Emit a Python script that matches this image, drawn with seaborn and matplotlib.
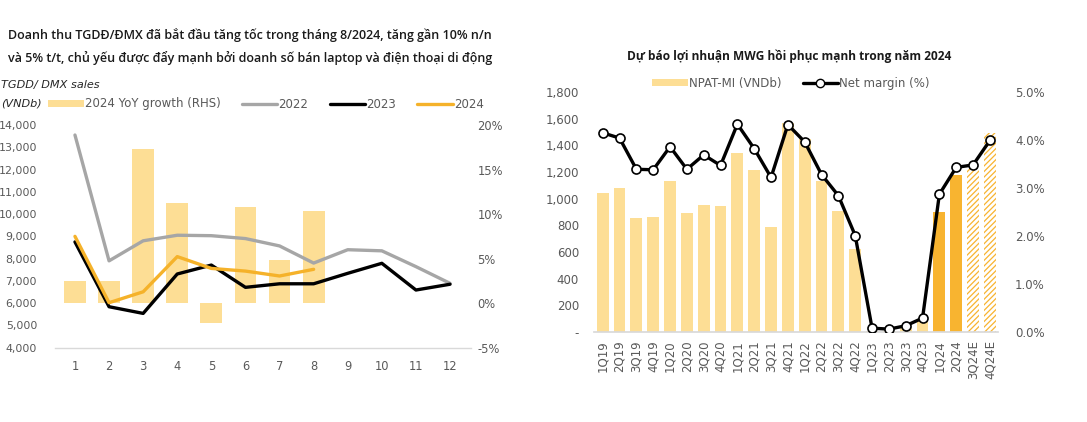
import numpy as np
import matplotlib
matplotlib.use("Agg")
import matplotlib.pyplot as plt
import seaborn as sns
from matplotlib.patches import Patch
from matplotlib.lines import Line2D
from matplotlib.ticker import FuncFormatter, MultipleLocator

# ---------------- data: left chart ----------------
months = list(range(1, 13))
sales_2022 = [13550, 7900, 8800, 9050, 9030, 8900, 8570, 7800, 8400, 8350, 7640, 6890]
sales_2023 = [8750, 5840, 5540, 7310, 7710, 6710, 6870, 6870, 7340, 7790, 6590, 6850]
months_2024 = [1, 2, 3, 4, 5, 6, 7, 8]
sales_2024 = [9000, 6020, 6510, 8090, 7560, 7440, 7220, 7520]
yoy_2024 = [2.5, 2.5, 17.3, 11.2, -2.2, 10.8, 4.9, 10.3]

# ---------------- data: right chart ----------------
quarters = ["1Q19", "2Q19", "3Q19", "4Q19", "1Q20", "2Q20", "3Q20", "4Q20",
            "1Q21", "2Q21", "3Q21", "4Q21", "1Q22", "2Q22", "3Q22", "4Q22",
            "1Q23", "2Q23", "3Q23", "4Q23", "1Q24", "2Q24", "3Q24E", "4Q24E"]
npat = [1040, 1080, 855, 860, 1135, 895, 950, 945,
        1340, 1215, 785, 1570, 1450, 1135, 905, 620,
        5, 5, 30, 85, 900, 1180, 1230, 1490]
margin = [4.15, 4.04, 3.39, 3.38, 3.86, 3.39, 3.69, 3.47,
          4.33, 3.82, 3.22, 4.32, 3.96, 3.28, 2.84, 2.01,
          0.08, 0.06, 0.13, 0.29, 2.87, 3.43, 3.48, 3.99]

PALE = "#FDDE95"
DARK = "#F8B430"
ORANGE = "#F5B22A"
GREY = "#A6A6A6"
TICK = "#595959"

sns.set_theme(style="white")
plt.rcParams["font.family"] = ["DejaVu Sans"]
plt.rcParams["hatch.linewidth"] = 0.9

W, H = 1087, 422
fig = plt.figure(figsize=(W / 100, H / 100), dpi=100)
fig.patch.set_facecolor("white")

def fx(px):
    return px / W

def fy(py):
    return 1 - py / H

TFONT = ["Open Sans", "DejaVu Sans"]

# ---------------- left chart ----------------
axL = fig.add_axes([fx(54.5), fy(347.7), fx(416), 222.7 / H])
axL2 = axL.twinx()

sns.barplot(x=months_2024, y=yoy_2024, native_scale=True, ax=axL2,
            color=PALE, width=0.64, saturation=1)
for p in axL2.patches:
    p.set_edgecolor("none")

sns.lineplot(x=months, y=sales_2022, ax=axL, color=GREY, lw=2.4)
sns.lineplot(x=months, y=sales_2023, ax=axL, color="black", lw=2.4)
sns.lineplot(x=months_2024, y=sales_2024, ax=axL, color=ORANGE, lw=2.4)

axL.set_zorder(axL2.get_zorder() + 1)
axL.patch.set_visible(False)

axL.set_xlim(0.4, 12.6)
axL.set_ylim(4000, 14000)
axL.yaxis.set_major_locator(MultipleLocator(1000))
axL.yaxis.set_major_formatter(FuncFormatter(lambda v, p: f"{int(v):,}"))
axL.set_xticks(months)
axL.set_xticklabels([str(m) for m in months])
axL2.set_ylim(-5, 20)
axL2.yaxis.set_major_locator(MultipleLocator(5))
axL2.yaxis.set_major_formatter(FuncFormatter(lambda v, p: f"{int(v)}%"))
axL.set_xlabel("")
axL.set_ylabel("")
axL2.set_ylabel("")
axL2.set_xlabel("")

for a in (axL, axL2):
    for s in a.spines.values():
        s.set_visible(False)
    a.tick_params(length=0, labelsize=8.3, colors=TICK)
    a.grid(False)
axL.tick_params(axis="y", labelsize=7.9)
axL.spines["bottom"].set_visible(True)
axL.spines["bottom"].set_color("#D9D9D9")
axL.spines["bottom"].set_linewidth(1)
axL.tick_params(axis="y", pad=12.5)
axL.tick_params(axis="x", pad=9)
axL2.tick_params(axis="y", pad=5)

fig.text(fx(8), fy(35), "Doanh thu TGDĐ/ĐMX đã bắt đầu tăng tốc trong tháng 8/2024, tăng gần 10% n/n",
         ha="left", va="center", fontsize=9.0, fontweight="semibold", family=TFONT, color="#1A1A1A")
fig.text(fx(8), fy(58), "và 5% t/t, chủ yếu được đẩy mạnh bởi doanh số bán laptop và điện thoại di động",
         ha="left", va="center", fontsize=9.0, fontweight="semibold", family=TFONT, color="#1A1A1A")
fig.text(fx(1), fy(85), "TGDD/ DMX sales", ha="left", va="center", fontsize=8.1,
         style="italic", color="#262626")
fig.text(fx(1), fy(103), "(VNDb)", ha="left", va="center", fontsize=8.1,
         style="italic", color="#262626")

handlesL = [Patch(facecolor=PALE, edgecolor="none"),
            Line2D([], [], color=GREY, lw=2.4),
            Line2D([], [], color="black", lw=2.4),
            Line2D([], [], color=ORANGE, lw=2.4)]
fig.legend(handlesL, ["2024 YoY growth (RHS)", "2022", "2023", "2024"],
           loc="center", bbox_to_anchor=(fx(266), fy(104)), ncol=4, frameon=False,
           fontsize=8.5, handlelength=3.0, handleheight=0.6, handletextpad=0.1,
           columnspacing=1.8, labelcolor=TICK)

# ---------------- right chart ----------------
axR = fig.add_axes([fx(594.3), fy(332), fx(404), 240 / H])
colors = []
for q in quarters:
    if q.endswith("E"):
        colors.append("white")
    elif q.endswith("24"):
        colors.append(DARK)
    else:
        colors.append(PALE)
sns.barplot(x=quarters, y=npat, hue=quarters, palette=colors, order=quarters,
            hue_order=quarters, legend=False, ax=axR, width=0.7, saturation=1)
bars = sorted(axR.patches, key=lambda p: p.get_x())
for q, p in zip(quarters, bars):
    p.set_linewidth(0)
    if q.endswith("E"):
        p.set_facecolor("white")
        p.set_edgecolor(DARK)
        p.set_hatch("//////")
    else:
        p.set_edgecolor("none")

axR2 = axR.twinx()
sns.lineplot(x=np.arange(len(quarters)), y=margin, ax=axR2, color="black", lw=2.4,
             marker="o", markersize=6.5, markerfacecolor="white",
             markeredgecolor="black", markeredgewidth=1.2)

axR.set_xlim(-0.5, len(quarters) - 0.5)
axR.set_ylim(0, 1800)
axR.yaxis.set_major_locator(MultipleLocator(200))
axR.yaxis.set_major_formatter(FuncFormatter(lambda v, p: "-" if v == 0 else f"{int(v):,}"))
axR.set_xticks(np.arange(len(quarters)))
axR.set_xticklabels(quarters, rotation=90)
axR2.set_ylim(0, 5)
axR2.yaxis.set_major_locator(MultipleLocator(1))
axR2.yaxis.set_major_formatter(FuncFormatter(lambda v, p: f"{v:.1f}%"))
for a in (axR, axR2):
    a.set_xlabel("")
    a.set_ylabel("")
    for s in a.spines.values():
        s.set_visible(False)
    a.tick_params(length=0, labelsize=8.5, colors=TICK)
    a.grid(False)
axR.spines["bottom"].set_visible(True)
axR.spines["bottom"].set_color("#D9D9D9")
axR.tick_params(axis="y", pad=11)
axR.tick_params(axis="x", pad=6)
axR2.tick_params(axis="y", pad=12)

fig.text(fx(789), fy(56), "Dự báo lợi nhuận MWG hồi phục mạnh trong năm 2024",
         ha="center", va="center", fontsize=8.6, fontweight="bold", family=TFONT, color="#1A1A1A")

handlesR = [Patch(facecolor=PALE, edgecolor="none"),
            Line2D([], [], color="black", lw=2.4, marker="o", markersize=6,
                   markerfacecolor="white", markeredgecolor="black")]
fig.legend(handlesR, ["NPAT-MI (VNDb)", "Net margin (%)"],
           loc="center", bbox_to_anchor=(fx(791), fy(83)), ncol=2, frameon=False,
           fontsize=8.5, handlelength=3.0, handleheight=0.6, handletextpad=0.1,
           columnspacing=1.8, labelcolor=TICK)

fig.savefig("out.png", dpi=100, facecolor="white")
